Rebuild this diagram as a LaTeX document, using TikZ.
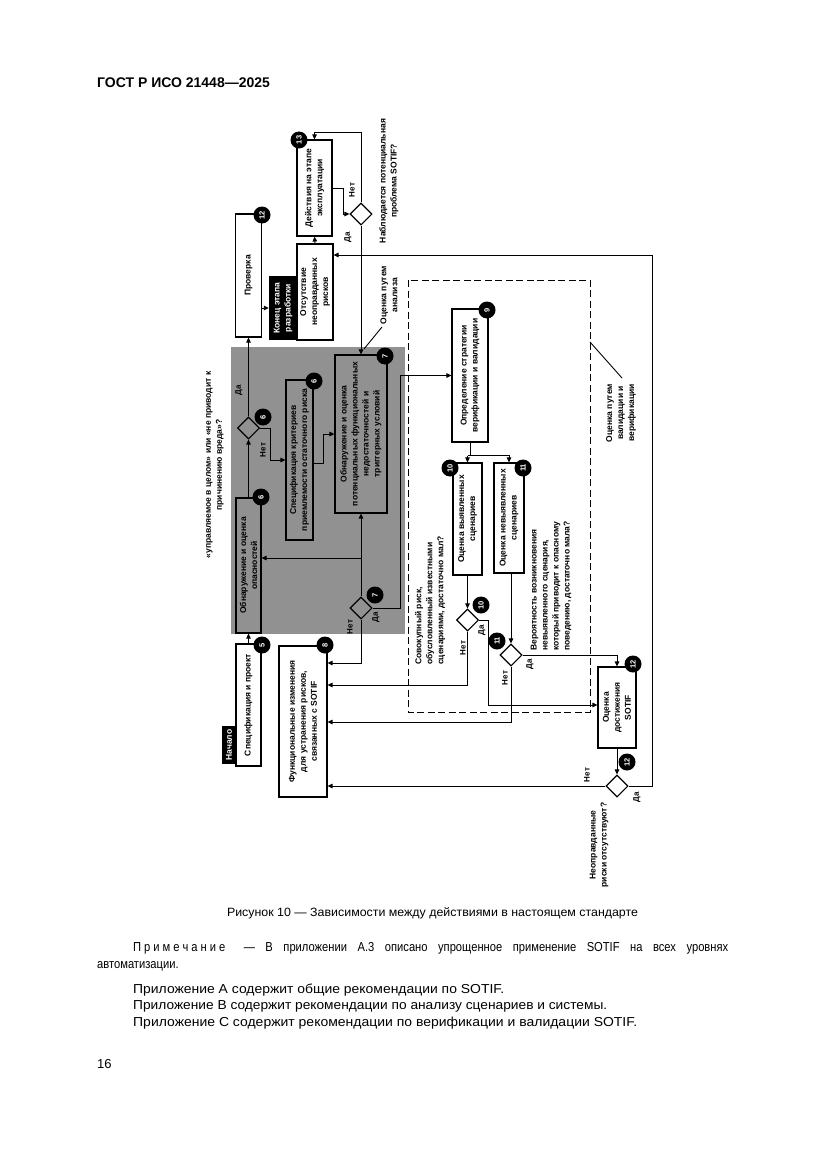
\documentclass[tikz,border=0pt]{standalone}
\usepackage{fontspec}
\usepackage{graphicx}
\setmainfont{Liberation Sans}
\newfontfamily\narrowf[FakeStretch=0.86]{Liberation Sans}
\usetikzlibrary{arrows.meta,shapes.geometric,calc}
\newcommand\dgfont{\bfseries\fontsize{8.5}{11}\selectfont}
\begin{document}
\begin{tikzpicture}[x=1pt,y=-1pt,
  box/.style={draw, line width=1.1pt, inner sep=0},
  blk/.style={fill=black, inner sep=0},
  dm/.style={diamond, draw, line width=1.1pt, minimum width=22pt, minimum height=22pt, inner sep=0},
  bt/.style={rotate=90, font=\dgfont, align=center, inner sep=0},
  wt/.style={rotate=90, font=\dgfont, align=center, inner sep=0, text=white},
  qt/.style={rotate=90, font=\dgfont, inner sep=0},
  lb/.style={rotate=90, font=\bfseries\fontsize{8}{9}\selectfont, inner sep=0},
  bd/.style={circle, fill=black, minimum size=17pt, inner sep=0, text=white, rotate=90, font=\bfseries\fontsize{7.5}{8}\selectfont},
  ln/.style={line width=0.9pt},
  arr/.style={line width=0.9pt, -{Triangle[length=5pt,width=4.5pt]}},
  dsh/.style={line width=1pt, dash pattern=on 7pt off 3.5pt},
]
\useasboundingbox (0,0) rectangle (827,1169);

% header
\node[anchor=base west, inner sep=0, font=\bfseries\fontsize{14}{16}\selectfont] (hdr) at (97,88) {ГОСТ Р ИСО 21448—2025};

% regions
\fill[fill={rgb,255:red,145;green,145;blue,145}] (231,347) rectangle (405,634);
\draw[dsh] (408,280) rectangle (590,712);

% boxes
\node[blk, minimum width=14pt, minimum height=38pt] (start) at (229,745) {};
\node[wt] at (start) {Начало};
\node[box, minimum width=25pt, minimum height=122pt] (b5) at (248.5,705) {};
\node[bt] at (b5) {Спецификация и проект};
\node[box, minimum width=25pt, minimum height=135pt] (b6h) at (248.5,565.5) {};
\node[bt] at (b6h) {Обнаружение и оценка\\опасностей};
\node[dm] (d6) at (248.5,428) {};
\node[box, minimum width=26pt, minimum height=123pt] (bcheck) at (248.5,275.5) {};
\node[bt] at (bcheck) {Проверка};
\node[blk, minimum width=28pt, minimum height=64pt] (bend) at (283,308) {};
\node[wt] at (bend) {Конец этапа\\разработки};
\node[box, minimum width=36pt, minimum height=96pt] (bnorisk) at (315,292) {};
\node[bt] at (bnorisk) {Отсутствие\\неоправданных\\рисков};
\node[box, minimum width=35pt, minimum height=96pt] (b13) at (314.5,188) {};
\node[bt] at (b13) {Действия на этапе\\эксплуатации};
\node[dm] (d13) at (361,214) {};
\node[box, minimum width=27pt, minimum height=160pt] (b6s) at (299.5,460) {};
\node[bt] at (b6s) {Спецификация критериев\\приемлемости остаточного риска};
\node[box, minimum width=52pt, minimum height=158pt] (b7) at (361,434) {};
\node[bt] at (b7) {Обнаружение и оценка\\потенциальных функциональных\\недостаточностей и\\триггерных условий};
\node[dm] (d7) at (361,608) {};
\node[box, minimum width=48pt, minimum height=151pt] (b8) at (303,721.5) {};
\node[bt] at (b8) {Функциональные изменения\\для устранения рисков,\\связанных с SOTIF};
\node[box, minimum width=36pt, minimum height=133pt] (b9) at (470,375.5) {};
\node[bt] at (b9) {Определение стратегии\\верификации и валидации};
\node[box, minimum width=29pt, minimum height=112pt] (b10) at (467.5,519) {};
\node[bt] at (b10) {Оценка выявленных\\сценариев};
\node[box, minimum width=30pt, minimum height=110pt] (b11) at (509,518) {};
\node[bt] at (b11) {Оценка невыявленных\\сценариев};
\node[dm] (d10) at (467.5,620) {};
\node[dm] (d11) at (511,655) {};
\node[box, minimum width=38pt, minimum height=81pt] (b12) at (617,707.5) {};
\node[bt] at (b12) {Оценка\\достижения\\SOTIF};
\node[dm] (d12) at (617,786) {};

% connectors
\draw[arr] (b5.north) -- (b6h.south);
\draw[arr] (b6h.north) -- (d6.south);
\draw[arr] (d6.north) -- (bcheck.south);
\draw[arr] (bcheck.east |- bend.west) -- (bend.west);
\draw[arr] (bnorisk.north) -- (b13.south);
\draw[arr] (b13.east) -- (343,188) |- (d13.west);
\draw[arr] (d13.north) |- (b13.north |- 0,132) -- (b13.north);
\draw[arr] (d13.south) -- (b7.north);
\draw[arr] (d12.east) -| (652,255) -- (bnorisk.east |- 0,255);
\draw[arr] (d6.east) -| (270,460) -- (b6s.west);
\draw[arr] (b6s.east |- 0,463) -- (323,463) |- (b7.west);
\draw[arr] (d7.north) -- (b7.south);
\draw[arr] (d7.north |- 0,558) -- (b6h.east |- 0,558);
\draw[arr] (d7.east) -| (400,375.5) -- (b9.west);
\draw[arr] (d7.south) |- (b8.east |- 0,663);
\draw[ln] (b9.south) -- ++(0,13) coordinate (j9);
\draw[arr] (j9 -| b10.north) -- (b10.north);
\draw[arr] (j9 -| b10.north) -| (b11.north);
\draw[arr] (b10.south) -- (d10.north);
\draw[arr] (d11.north |- b11.south) -- (d11.north);
\draw[arr] (d10.east) -| (488,705) -- (b12.west |- 0,705);
\draw[arr] (d10.south) |- (b8.east |- 0,685);
\draw[arr] (d11.east) -| (b12.north);
\draw[arr] (d11.south) |- (b8.east |- 0,722);
\draw[arr] (b12.south) -- (d12.north);
\draw[arr] (d12.west) -- (b8.east |- d12.west);

% leaders
\coordinate (la1) at (382,327); \coordinate (la2) at (364,349);
\draw[ln] (la1) -- (la2);
\coordinate (lv1) at (590,342); \coordinate (lv2) at (622,378);
\draw[ln] (lv1) -- (lv2);

% yes/no labels
\node[lb] at (263,450) {Нет};
\node[lb] at (239,390) {Да};
\node[lb] at (350,627) {Нет};
\node[lb] at (376,617) {Да};
\node[lb] at (463,648) {Нет};
\node[lb] at (482,630) {Да};
\node[lb] at (505,678) {Нет};
\node[lb] at (530,664) {Да};
\node[lb] at (587,775) {Нет};
\node[lb] at (637,797) {Да};
\node[lb] at (352,190) {Нет};
\node[lb] at (348,237) {Да};

% question / annotation texts
\node[qt, align=center] at (215,465) {«управляемое в целом» или «не приводит к\\причинению вреда»?};
\node[qt, align=center] at (389,181) {Наблюдается потенциальная\\проблема SOTIF?};
\node[qt, align=center] at (599,845) {Неоправданные\\риски отсутствуют?};
\node[qt, align=center] at (389,295) {Оценка путем\\анализа};
\node[qt, align=center] at (621,413) {Оценка путем\\валидации и\\верификации};
\node[qt, align=left, anchor=west] at (430,665) {Совокупный риск,\\обусловленный известными\\сценариями, достаточно мал?};
\node[qt, align=left, anchor=west] at (551,651) {Вероятность возникновения\\невыявленного сценария,\\который приводит к опасному\\поведению, достаточно мала?};

% badges
\node[bd] at (262,645) {5};
\node[bd] at (261,497) {6};
\node[bd] at (263,417) {6};
\node[bd] at (314,381) {6};
\node[bd] at (385,356) {7};
\node[bd] at (375,595) {7};
\node[bd] at (325,645) {8};
\node[bd] at (487,310) {9};
\node[bd] at (450,468) {10};
\node[bd] at (523,468) {11};
\node[bd] at (481,605) {10};
\node[bd] at (497,641) {11};
\node[bd] at (633,664) {12};
\node[bd] at (627,762) {12};
\node[bd] at (262,215) {12};
\node[bd] at (299,140) {13};

% caption and text
\node[anchor=base, inner sep=0, font=\fontsize{12}{14}\selectfont] (cap) at (432.5,916) {\resizebox{411pt}{\height}{Рисунок 10 — Зависимости между действиями в настоящем стандарте}};
\node[anchor=base west, inner sep=0, font=\narrowf\fontsize{13}{15}\selectfont] (n1) at (133,951) {\makebox[595pt][s]{П\kern3pt р\kern3pt и\kern3pt м\kern3pt е\kern3pt ч\kern3pt а\kern3pt н\kern3pt и\kern3pt е\hspace{8pt} — В приложении А.3 описано упрощенное применение SOTIF на всех уровнях}};
\node[anchor=base west, inner sep=0, font=\narrowf\fontsize{13}{15}\selectfont] (n2) at (97,968) {автоматизации.};
\node[anchor=base west, inner sep=0, font=\fontsize{13}{15}\selectfont] (pa) at (133,993) {\resizebox{371pt}{\height}{Приложение А содержит общие рекомендации по SOTIF.}};
\node[anchor=base west, inner sep=0, font=\fontsize{13}{15}\selectfont] (pb) at (133,1009) {\resizebox{474pt}{\height}{Приложение В содержит рекомендации по анализу сценариев и системы.}};
\node[anchor=base west, inner sep=0, font=\fontsize{13}{15}\selectfont] (pc) at (133,1026) {\resizebox{504pt}{\height}{Приложение С содержит рекомендации по верификации и валидации SOTIF.}};
\node[anchor=base west, inner sep=0, font=\fontsize{13}{15}\selectfont] (pg) at (97,1068) {16};
\end{tikzpicture}
\end{document}
